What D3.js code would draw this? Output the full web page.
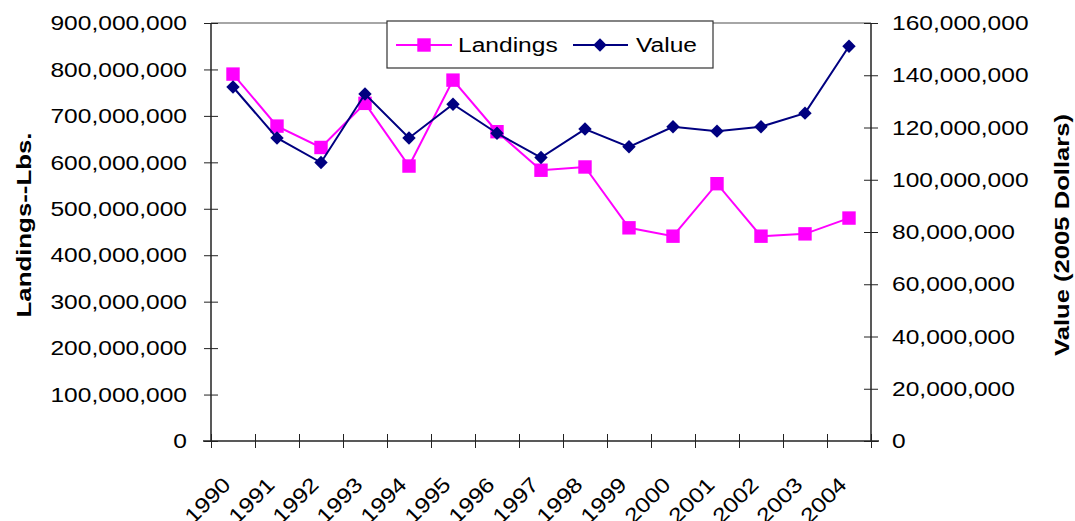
<!DOCTYPE html>
<html>
<head>
<meta charset="utf-8">
<script src="https://cdn.jsdelivr.net/npm/d3@7"></script>
<style>
  body { margin: 0; background: #fff; }
  svg text { font-family: Arial, "Liberation Sans", sans-serif; }
</style>
</head>
<body>
<svg id="chart" width="1075" height="521"></svg>
<script>
const years = ['1990', '1991', '1992', '1993', '1994', '1995', '1996', '1997',
  '1998', '1999', '2000', '2001', '2002', '2003', '2004'];
// landings in lbs (left axis)
const landings = [790e6, 678e6, 632e6, 727e6, 592e6, 777e6, 666e6, 583e6,
  590e6, 459e6, 441e6, 554e6, 441e6, 446e6, 480e6];
// value in 2005 dollars (right axis)
const value = [135.5e6, 116e6, 106.6e6, 132.8e6, 116e6, 128.9e6, 117.8e6, 108.5e6,
  119.4e6, 112.6e6, 120.3e6, 118.6e6, 120.3e6, 125.5e6, 151.1e6];
const leftTicks = d3.range(0, 900e6 + 1, 100e6);
const rightTicks = d3.range(0, 160e6 + 1, 20e6);

const svg = d3.select('#chart');
const plotL = 211, plotR = 871, plotT = 23, plotB = 441;
const SX = 1.17; // the source font is drawn a bit wide

const x = d3.scaleBand().domain(years).range([plotL, plotR]).padding(0);
const xb = d3.scaleLinear().domain([0, years.length]).range([plotL, plotR]);
const yL = d3.scaleLinear().domain([0, 900e6]).range([plotB, plotT]);
const yR = d3.scaleLinear().domain([0, 160e6]).range([plotB, plotT]);
const fmt = d3.format(',');
const cx = d => x(d) + x.bandwidth() / 2;

// plot frame (top edge gray)
svg.append('line')
  .attr('x1', plotL).attr('x2', plotR).attr('y1', plotT).attr('y2', plotT)
  .attr('stroke', '#888').attr('stroke-width', 1.5);

// left axis
const gL = svg.append('g').attr('transform', `translate(${plotL},0)`)
  .call(d3.axisLeft(yL).tickValues(leftTicks).tickFormat(fmt).tickSize(7));
gL.selectAll('.tick line').attr('x1', -7).attr('x2', 7).attr('stroke', '#222');
gL.selectAll('.tick text')
  .attr('font-size', 21).attr('fill', '#000')
  .attr('x', -24 / SX).attr('transform', `scale(${SX},1)`);
gL.select('.domain').attr('d', `M0,${plotT}V${plotB}`).attr('stroke', '#222').attr('stroke-width', 1.5);

// right axis
const gR = svg.append('g').attr('transform', `translate(${plotR},0)`)
  .call(d3.axisRight(yR).tickValues(rightTicks).tickFormat(fmt).tickSize(7));
gR.selectAll('.tick line').attr('x1', -7).attr('x2', 7).attr('stroke', '#222');
gR.selectAll('.tick text')
  .attr('font-size', 21).attr('fill', '#000')
  .attr('x', 21 / SX).attr('transform', `scale(${SX},1)`);
gR.select('.domain').attr('d', `M0,${plotT}V${plotB}`).attr('stroke', '#222').attr('stroke-width', 1.5);

// bottom axis: ticks at category boundaries
const gB = svg.append('g').attr('transform', `translate(0,${plotB})`)
  .call(d3.axisBottom(xb).tickValues(d3.range(years.length + 1)).tickFormat('').tickSize(7));
gB.selectAll('.tick line').attr('y1', -7).attr('stroke', '#222');
gB.select('.domain').attr('d', `M${plotL - 8},0H${plotR + 8}`).attr('stroke', '#222').attr('stroke-width', 1.5);

svg.append('g').selectAll('text').data(years).join('text')
  .attr('transform', d => `translate(${cx(d) - 1},${plotB + 45}) rotate(-45) scale(${SX},1)`)
  .attr('text-anchor', 'end')
  .attr('font-size', 21)
  .text(d => d);

// axis titles
svg.append('text')
  .attr('transform', `translate(31,225) rotate(-90) scale(1.23,1)`)
  .attr('text-anchor', 'middle')
  .attr('font-size', 21).attr('font-weight', 'bold')
  .text('Landings--Lbs.');
svg.append('text')
  .attr('transform', `translate(1069,235) rotate(-90) scale(1.22,1)`)
  .attr('text-anchor', 'middle')
  .attr('font-size', 21).attr('font-weight', 'bold')
  .text('Value (2005 Dollars)');

// series
const pink = '#ff00ff', navy = '#000080';
const square = d3.symbol().type(d3.symbolSquare).size(180);
const diamond = d3.symbol().type(d3.symbolSquare).size(90);

svg.append('path').datum(landings)
  .attr('fill', 'none').attr('stroke', pink).attr('stroke-width', 2)
  .attr('d', d3.line().x((d, i) => cx(years[i])).y(d => yL(d)));
svg.append('g').selectAll('path').data(landings).join('path')
  .attr('transform', (d, i) => `translate(${cx(years[i])},${yL(d)})`)
  .attr('d', square).attr('fill', pink);

svg.append('path').datum(value)
  .attr('fill', 'none').attr('stroke', navy).attr('stroke-width', 2)
  .attr('d', d3.line().x((d, i) => cx(years[i])).y(d => yR(d)));
svg.append('g').selectAll('path').data(value).join('path')
  .attr('transform', (d, i) => `translate(${cx(years[i])},${yR(d)}) rotate(45)`)
  .attr('d', diamond).attr('fill', navy);

// legend
const lg = svg.append('g');
lg.append('rect').attr('x', 387).attr('y', 21).attr('width', 326).attr('height', 47)
  .attr('fill', '#fff').attr('stroke', '#333').attr('stroke-width', 1.2);
const ly = 45;
lg.append('line').attr('x1', 396).attr('x2', 452).attr('y1', ly).attr('y2', ly)
  .attr('stroke', pink).attr('stroke-width', 2);
lg.append('path').attr('transform', `translate(424,${ly})`).attr('d', square).attr('fill', pink);
lg.append('text').attr('transform', `translate(458,${ly}) scale(${SX},1)`)
  .attr('dy', '0.35em').attr('font-size', 21).text('Landings');
lg.append('line').attr('x1', 573).attr('x2', 628).attr('y1', ly).attr('y2', ly)
  .attr('stroke', navy).attr('stroke-width', 2);
lg.append('path').attr('transform', `translate(600,${ly}) rotate(45)`)
  .attr('d', diamond).attr('fill', navy);
lg.append('text').attr('transform', `translate(636,${ly}) scale(${SX},1)`)
  .attr('dy', '0.35em').attr('font-size', 21).text('Value');
</script>
</body>
</html>
